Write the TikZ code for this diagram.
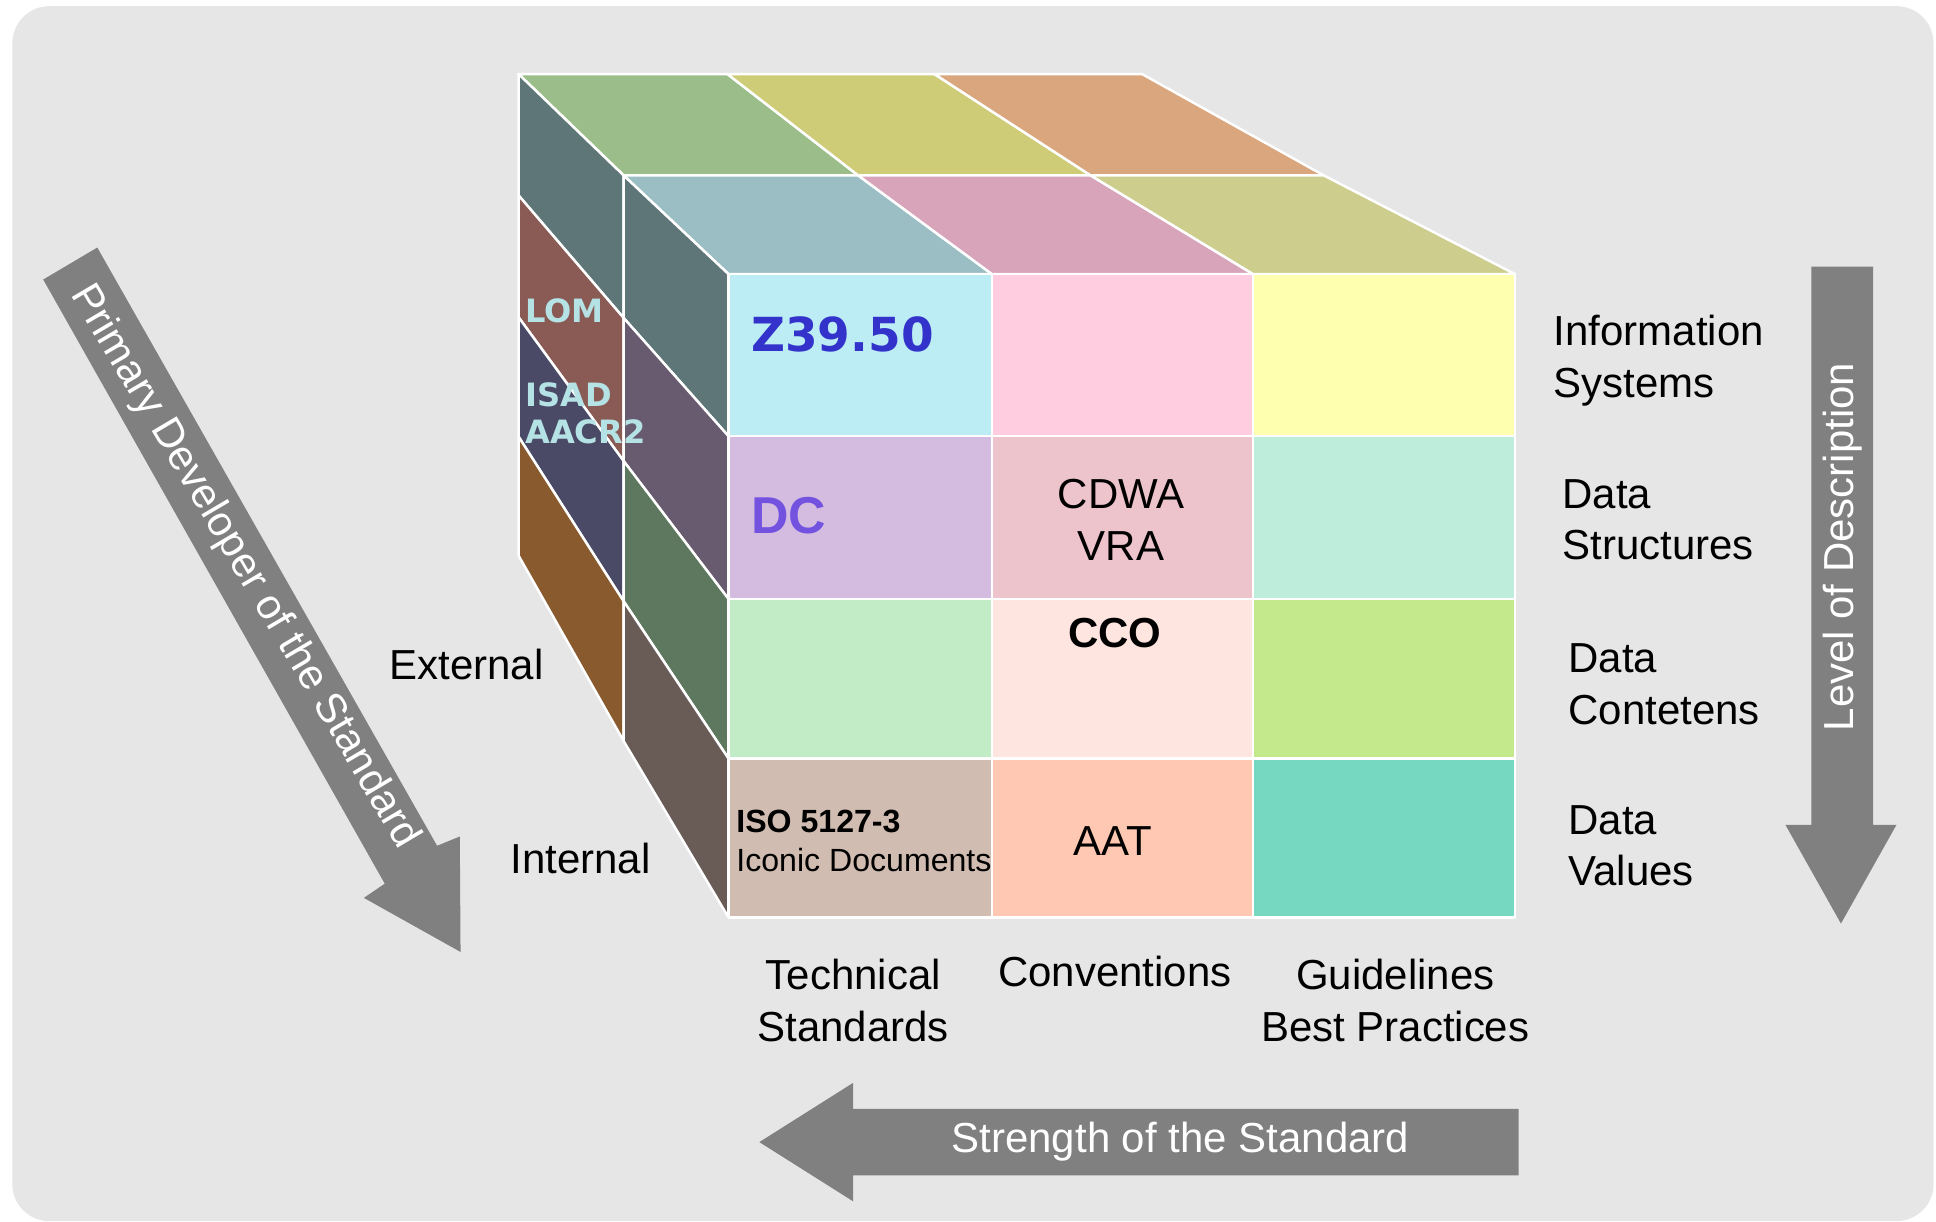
\documentclass[tikz,border=0pt]{standalone}
\usepackage{fontspec}
\setmainfont{Liberation Sans}
\newfontfamily\dejavu{DejaVu Sans}
\definecolor{bggray}{HTML}{E6E6E6}
\definecolor{arrowgray}{HTML}{808080}
\definecolor{zblue}{HTML}{3333CC}
\definecolor{dcpurple}{HTML}{7452E0}
\definecolor{sidetext}{HTML}{B5E2E5}

\begin{document}
\begin{tikzpicture}[x=0.5pt, y=-0.5pt,
  lbl/.style={inner sep=0pt, font=\fontsize{17}{21}\selectfont},
  side/.style={anchor=west, inner sep=0pt, text=sidetext, font=\dejavu\bfseries\fontsize{13}{15}\selectfont},
  tile/.style={draw=white, line width=1pt, line join=round}]
  \useasboundingbox (0,0) rectangle (1568,989);
  \fill[bggray, rounded corners=15pt] (10,5) rectangle (1566,989);

  \foreach \l/\x/\y/\w/\h in {B/420/60/505/390, M/505/142/567/458, F/590/222/637/521}
    \foreach \i/\u in {0/0, 1/0.335, 2/0.667, 3/1}
      \foreach \j/\v in {0/0, 1/0.252, 2/0.505, 3/0.753, 4/1}
        \coordinate (\l-\i-\j) at ({\x+\u*\w}, {\y+\v*\h});

  \foreach \i/\c in {0/9BBD89, 1/CFCC78, 2/D9A67D} {
    \pgfmathtruncatemacro\ii{\i+1}
    \definecolor{tc}{HTML}{\c}
    \draw[tile, fill=tc] (B-\i-0) -- (B-\ii-0) -- (M-\ii-0) -- (M-\i-0) -- cycle;
  }
  \foreach \i/\c in {0/9BBEC4, 1/D7A4BA, 2/CDCD8D} {
    \pgfmathtruncatemacro\ii{\i+1}
    \definecolor{tc}{HTML}{\c}
    \draw[tile, fill=tc] (M-\i-0) -- (M-\ii-0) -- (F-\ii-0) -- (F-\i-0) -- cycle;
  }
  \foreach \j/\c in {0/5E7677, 1/8A5A55, 2/4A4966, 3/8A5A2F} {
    \pgfmathtruncatemacro\jj{\j+1}
    \definecolor{tc}{HTML}{\c}
    \draw[tile, fill=tc] (B-0-\j) -- (M-0-\j) -- (M-0-\jj) -- (B-0-\jj) -- cycle;
  }
  \foreach \j/\c in {0/5E7677, 1/695B6F, 2/5E785F, 3/695C56} {
    \pgfmathtruncatemacro\jj{\j+1}
    \definecolor{tc}{HTML}{\c}
    \draw[tile, fill=tc] (M-0-\j) -- (F-0-\j) -- (F-0-\jj) -- (M-0-\jj) -- cycle;
  }
  \foreach \i/\j/\c in {0/0/BDEDF4, 1/0/FFCCE0, 2/0/FFFFB0,
                        0/1/D4BCE0, 1/1/EDC4CB, 2/1/BFEDDC,
                        0/2/C1ECC5, 1/2/FFE5DF, 2/2/C3E98C,
                        0/3/D0BCB0, 1/3/FFC8B3, 2/3/76D8C0} {
    \pgfmathtruncatemacro\ii{\i+1}
    \pgfmathtruncatemacro\jj{\j+1}
    \definecolor{tc}{HTML}{\c}
    \draw[tile, fill=tc] (F-\i-\j) rectangle (F-\ii-\jj);
  }

  \node[anchor=west, inner sep=0pt, text=zblue, font=\dejavu\bfseries\fontsize{19}{23}\selectfont] (z3950) at (608,271) {Z39.50};
  \node[anchor=west, inner sep=0pt, text=dcpurple, font=\bfseries\fontsize{21}{25}\selectfont] (dc) at (608,418) {DC};
  \node[lbl, align=center] (cdwa) at (908,421) {CDWA\\VRA};
  \node[lbl, font=\bfseries\fontsize{17}{21}\selectfont] (cco) at (903,513) {CCO};
  \node[lbl] (aat) at (901,681) {AAT};
  \node[anchor=west, inner sep=0pt, align=left, font=\fontsize{13}{15.5}\selectfont] (iso) at (596,681) {\textbf{ISO 5127-3}\\Iconic Documents};
  \node[side] (lom) at (425,252) {LOM};
  \node[side, align=left] (isad) at (425,335) {ISAD\\AACR2};

  \node[lbl, anchor=west, align=left] (infosys) at (1258,292) {Information\\Systems};
  \node[lbl, anchor=west, align=left] (datastruct) at (1265,421) {Data\\Structures};
  \node[lbl, anchor=west, align=left] (datacont) at (1270,554) {Data\\Contetens};
  \node[lbl, anchor=west, align=left] (dataval) at (1270,685) {Data\\Values};
  \node[lbl, anchor=west] (external) at (315,538) {External};
  \node[lbl, anchor=west] (internal) at (413,695) {Internal};
  \node[lbl, align=center] (technical) at (691,810) {Technical\\Standards};
  \node[lbl] (conventions) at (903,787) {Conventions};
  \node[lbl, align=center] (guidelines) at (1130,810) {Guidelines\\Best Practices};

  \fill[arrowgray] (35,226.4) -- (78.8,200.5) -- (354,685) -- (372.4,677.5) -- (373,771) -- (294.7,727.2) -- (311.6,715.7) -- cycle;
  \node[lbl, text=white, rotate=-59.4] (primary) at (198,459) {Primary Developer of the Standard};
  \fill[arrowgray] (1467,216) -- (1517,216) -- (1517,668) -- (1536,668) -- (1491,748) -- (1446,668) -- (1467,668) -- cycle;
  \node[lbl, text=white, rotate=90] (level) at (1492,443) {Level of Description};
  \fill[arrowgray] (1230,898) -- (691,898) -- (691,877) -- (615,925) -- (691,973) -- (691,952) -- (1230,952) -- cycle;
  \node[lbl, text=white] (strength) at (956,925) {Strength of the Standard};
\end{tikzpicture}
\end{document}
